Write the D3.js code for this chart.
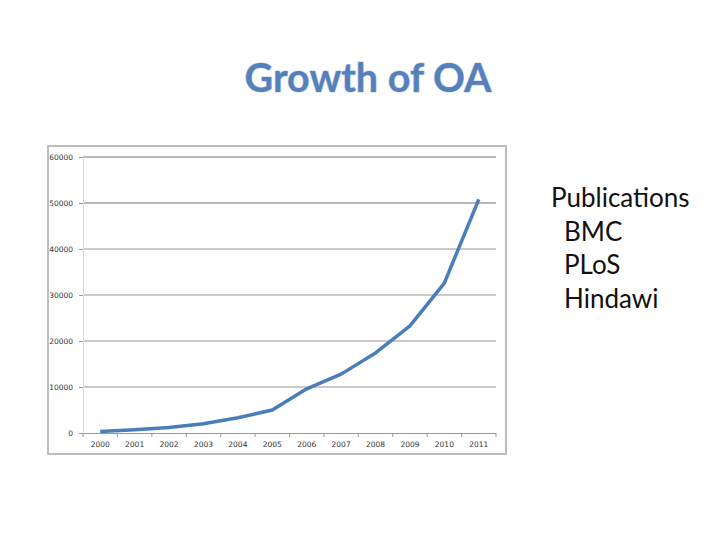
<!DOCTYPE html>
<html>
<head>
<meta charset="utf-8">
<script src="https://cdn.jsdelivr.net/npm/d3@7"></script>
<style>
  body { margin: 0; background: #fff; }
</style>
</head>
<body>
<div id="chart"></div>
<script>
const years = ["2000","2001","2002","2003","2004","2005","2006","2007","2008","2009","2010","2011"];
const publications = [300, 700, 1200, 2000, 3300, 5000, 9600, 12800, 17400, 23300, 32600, 50800];
const yTicks = [0, 10000, 20000, 30000, 40000, 50000, 60000];
const legendItems = ["Publications", "BMC", "PLoS", "Hindawi"];

const width = 720, height = 540;
const svg = d3.select("#chart").append("svg")
  .attr("width", width).attr("height", height)
  .style("font-family", "Lato, 'Open Sans', sans-serif");

// title
svg.append("text")
  .attr("x", 368).attr("y", 92)
  .attr("text-anchor", "middle")
  .attr("font-size", 39.5).attr("font-weight", "bold")
  .attr("fill", "#5580bb")
  .attr("stroke", "#c9d6ea").attr("stroke-width", 1.2)
  .attr("paint-order", "stroke")
  .text("Growth of OA");

// chart frame
svg.append("rect")
  .attr("x", 48).attr("y", 146).attr("width", 458).attr("height", 308)
  .attr("fill", "#fff").attr("stroke", "#bdbdbd").attr("stroke-width", 2);

const x = d3.scaleBand().domain(years).range([83, 496]);
const y = d3.scaleLinear().domain([0, 60000]).range([433, 157]);

// gridlines
svg.append("g")
  .selectAll("line")
  .data(yTicks.filter(d => d > 0))
  .join("line")
  .attr("x1", 83).attr("x2", 496)
  .attr("y1", d => y(d)).attr("y2", d => y(d))
  .attr("stroke", "#b8b8b8")
  .attr("stroke-width", d => d >= 50000 ? 2 : 1.5);

// y axis
const yAxis = svg.append("g")
  .attr("transform", "translate(83,0)")
  .call(d3.axisLeft(y).tickValues(yTicks).tickSize(4).tickPadding(6).tickFormat(d3.format("d")));
yAxis.select(".domain").attr("stroke", "#dcdcdc");
yAxis.selectAll(".tick line").attr("stroke", "#999");
yAxis.selectAll("text").attr("font-size", 7.5).attr("fill", "#333").attr("font-family", "'DejaVu Sans', sans-serif");

// x axis
const xAxis = svg.append("g")
  .attr("transform", "translate(0,433)")
  .call(d3.axisBottom(x).tickSize(0).tickPadding(9));
xAxis.select(".domain").attr("stroke", "#999");
xAxis.selectAll("text").attr("font-size", 7.5).attr("fill", "#333").attr("font-family", "'DejaVu Sans', sans-serif");
xAxis.selectAll(".sep")
  .data(years.concat(["end"]))
  .join("line")
  .attr("class", "sep")
  .attr("x1", (d, i) => 83 + i * x.bandwidth())
  .attr("x2", (d, i) => 83 + i * x.bandwidth())
  .attr("y1", 0).attr("y2", 4)
  .attr("stroke", "#999");

// line
const line = d3.line()
  .x((d, i) => x(years[i]) + x.bandwidth() / 2)
  .y(d => y(d));
svg.append("path")
  .datum(publications)
  .attr("d", line)
  .attr("fill", "none")
  .attr("stroke", "#4a7ebb")
  .attr("stroke-width", 3.5)
  .attr("stroke-linejoin", "round");

// legend text
svg.append("g")
  .selectAll("text")
  .data(legendItems)
  .join("text")
  .attr("x", (d, i) => i === 0 ? 551 : 564)
  .attr("y", (d, i) => 207 + i * 33.5)
  .attr("font-size", 26)
  .attr("fill", "#111")
  .text(d => d);
</script>
</body>
</html>
